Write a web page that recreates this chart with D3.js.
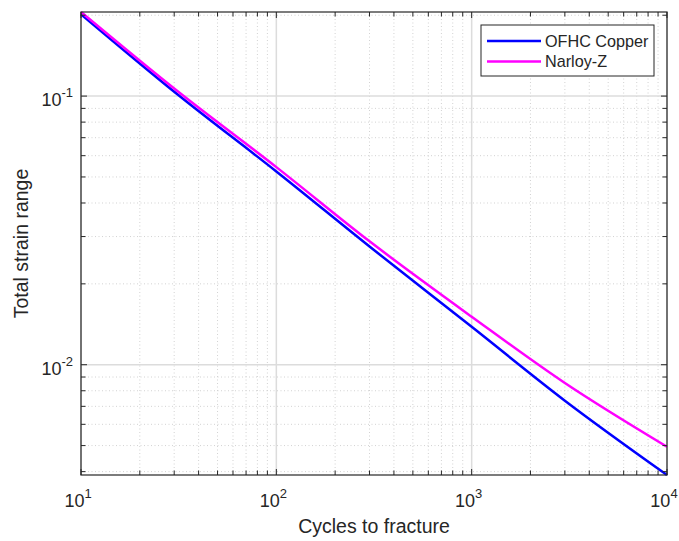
<!DOCTYPE html>
<html>
<head>
<meta charset="utf-8">
<script src="https://cdn.jsdelivr.net/npm/d3@7"></script>
<style>
  body { margin: 0; background: #fff; }
  text { font-family: "Liberation Sans", Arial, Helvetica, sans-serif; fill: #262626; }
</style>
</head>
<body>
<div id="chart"></div>
<script>
// Values (cycles -> total strain range)
const cycles = [10, 31.6, 100, 300, 1000, 3000, 10000];
const ofhcCopper = [0.2018, 0.1007, 0.0524, 0.02754, 0.01384, 0.00735, 0.003886];
const narloyZ = [0.2056, 0.1035, 0.0544, 0.0288, 0.01509, 0.00855, 0.00495];

const seriesNames = ["OFHC Copper", "Narloy-Z"];
const seriesColors = ["#0000ff", "#ff00ff"];
const xTickExps = [1, 2, 3, 4];
const yTickExps = [-2, -1];

const width = 679, height = 541;
const margin = {left: 81, top: 12, right: 12, bottom: 66};
const plotW = width - margin.left - margin.right;
const plotH = height - margin.top - margin.bottom;

const svg = d3.select("#chart").append("svg")
    .attr("width", width)
    .attr("height", height);

const x = d3.scaleLog().domain([10, 10000]).range([0, plotW]);
const y = d3.scaleLog().domain([d3.min(ofhcCopper), d3.max(narloyZ)]).range([plotH, 0]);

const g = svg.append("g").attr("transform", `translate(${margin.left},${margin.top})`);

// minor + major tick values
const xMinor = [], yMinor = [];
for (let e = 1; e < 4; e++) for (let m = 2; m <= 9; m++) xMinor.push(m * Math.pow(10, e));
for (let e = -3; e < 0; e++) for (let m = 2; m <= 9; m++) {
    const v = m * Math.pow(10, e);
    if (v >= y.domain()[0] && v <= y.domain()[1]) yMinor.push(v);
}
const xMajor = xTickExps.map(e => Math.pow(10, e));
const yMajor = yTickExps.map(e => Math.pow(10, e));

// minor grid (dotted)
g.selectAll(".xminor").data(xMinor).enter().append("line")
    .attr("x1", d => x(d)).attr("x2", d => x(d))
    .attr("y1", 0).attr("y2", plotH)
    .attr("stroke", "#d2d2d2").attr("stroke-width", 1)
    .attr("stroke-dasharray", "1,2.5");
g.selectAll(".yminor").data(yMinor).enter().append("line")
    .attr("y1", d => y(d)).attr("y2", d => y(d))
    .attr("x1", 0).attr("x2", plotW)
    .attr("stroke", "#d2d2d2").attr("stroke-width", 1)
    .attr("stroke-dasharray", "1,2.5");

// major grid
g.selectAll(".xmajor").data(xMajor).enter().append("line")
    .attr("x1", d => x(d)).attr("x2", d => x(d))
    .attr("y1", 0).attr("y2", plotH)
    .attr("stroke", "#dcdcdc").attr("stroke-width", 1.5);
g.selectAll(".ymajor").data(yMajor).enter().append("line")
    .attr("y1", d => y(d)).attr("y2", d => y(d))
    .attr("x1", 0).attr("x2", plotW)
    .attr("stroke", "#dcdcdc").attr("stroke-width", 1.5);

// series lines
const seriesData = [ofhcCopper, narloyZ];
const line = d3.line()
    .x(d => x(d[0]))
    .y(d => y(d[1]))
    .curve(d3.curveMonotoneX);

seriesData.forEach((vals, i) => {
    g.append("path")
        .datum(cycles.map((c, j) => [c, vals[j]]))
        .attr("fill", "none")
        .attr("stroke", seriesColors[i])
        .attr("stroke-width", 2.5)
        .attr("d", line);
});

// ticks (inward on all four sides)
const tickCol = "#262626";
function xTicks(vals, len) {
    vals.forEach(v => {
        g.append("line").attr("x1", x(v)).attr("x2", x(v)).attr("y1", plotH).attr("y2", plotH - len)
            .attr("stroke", tickCol);
        g.append("line").attr("x1", x(v)).attr("x2", x(v)).attr("y1", 0).attr("y2", len)
            .attr("stroke", tickCol);
    });
}
function yTicks(vals, len) {
    vals.forEach(v => {
        g.append("line").attr("y1", y(v)).attr("y2", y(v)).attr("x1", 0).attr("x2", len)
            .attr("stroke", tickCol);
        g.append("line").attr("y1", y(v)).attr("y2", y(v)).attr("x1", plotW).attr("x2", plotW - len)
            .attr("stroke", tickCol);
    });
}
xTicks(xMinor, 4.5); xTicks(xMajor, 6);
yTicks(yMinor, 4.5); yTicks(yMajor, 6);

// axis box
g.append("rect").attr("width", plotW).attr("height", plotH)
    .attr("fill", "none").attr("stroke", tickCol).attr("stroke-width", 1.2);

// tick labels with superscripts
xTickExps.forEach(e => {
    const t = g.append("text")
        .attr("x", x(Math.pow(10, e)) - 3)
        .attr("y", plotH + 32)
        .attr("text-anchor", "middle")
        .style("font-size", "18px");
    t.append("tspan").text("10");
    t.append("tspan").attr("dy", -9).style("font-size", "13px").text(e);
});
yTickExps.forEach(e => {
    const t = g.append("text")
        .attr("x", -8)
        .attr("y", y(Math.pow(10, e)) + 10)
        .attr("text-anchor", "end")
        .style("font-size", "18px");
    t.append("tspan").text("10");
    t.append("tspan").attr("dy", -9).style("font-size", "13px").text(e);
});

// axis labels
svg.append("text")
    .attr("x", margin.left + plotW / 2)
    .attr("y", 533)
    .attr("text-anchor", "middle")
    .style("font-size", "19.5px")
    .text("Cycles to fracture");
svg.append("text")
    .attr("transform", `translate(28,${margin.top + plotH / 2}) rotate(-90)`)
    .attr("text-anchor", "middle")
    .style("font-size", "19.5px")
    .text("Total strain range");

// legend
const legend = svg.append("g").attr("transform", "translate(481,25)");
legend.append("rect").attr("width", 173).attr("height", 51)
    .attr("fill", "#fff").attr("stroke", tickCol).attr("stroke-width", 1);
seriesNames.forEach((name, i) => {
    const ly = 16 + i * 20.5;
    legend.append("line").attr("x1", 6).attr("x2", 60).attr("y1", ly).attr("y2", ly)
        .attr("stroke", seriesColors[i]).attr("stroke-width", 2.5);
    legend.append("text").attr("x", 64).attr("y", ly + 5.5)
        .style("font-size", "16.2px").text(name);
});
</script>
</body>
</html>
